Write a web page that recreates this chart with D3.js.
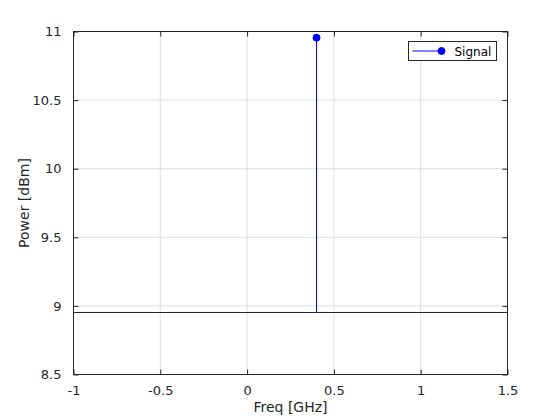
<!DOCTYPE html>
<html>
<head>
<meta charset="utf-8">
<script src="https://cdn.jsdelivr.net/npm/d3@7"></script>
<style>
  body { margin: 0; background: #fff; }
  text { font-family: "DejaVu Sans", sans-serif; }
</style>
</head>
<body>
<div id="vis"><svg></svg></div>
<script>
// data
const freqs = [0.4];
const powers = [10.955];
const baseValue = 8.952;
const xTicks = [-1, -0.5, 0, 0.5, 1, 1.5];
const yTicks = [8.5, 9, 9.5, 10, 10.5, 11];
const seriesName = "Signal";

const W = 560, H = 420;
const margin = {top: 31.5, right: 52.5, bottom: 45.5, left: 73.5};
const width = W - margin.left - margin.right,
      height = H - margin.top - margin.bottom;

const svg = d3.select("#vis").select("svg")
  .attr("width", W).attr("height", H);
const g = svg.append("g")
  .attr("transform", "translate(" + margin.left + "," + margin.top + ")");

const x = d3.scaleLinear().domain([-1, 1.5]).range([0, width]);
const y = d3.scaleLinear().domain([8.5, 11]).range([height, 0]);

// grid
g.append("g").selectAll("line").data(xTicks).join("line")
  .attr("x1", d => x(d)).attr("x2", d => x(d))
  .attr("y1", 0).attr("y2", height)
  .attr("stroke", "#dfdfdf").attr("stroke-width", 1);
g.append("g").selectAll("line").data(yTicks).join("line")
  .attr("y1", d => y(d)).attr("y2", d => y(d))
  .attr("x1", 0).attr("x2", width)
  .attr("stroke", "#dfdfdf").attr("stroke-width", 1);

// axes (ticks inside, like matlab)
const fmt = d => String(d).replace("-", "-");
function styleAxis(sel) {
  sel.select(".domain").remove();
  sel.selectAll(".tick line").attr("stroke", "#262626");
  sel.selectAll(".tick text").attr("fill", "#262626")
    .style("font-size", "13px").style("font-family", "DejaVu Sans, sans-serif");
}
g.append("g").attr("transform", `translate(0,${height})`)
  .call(d3.axisBottom(x).tickValues(xTicks).tickFormat(fmt).tickSizeInner(-5).tickPadding(11))
  .call(styleAxis);
g.append("g")
  .call(d3.axisTop(x).tickValues(xTicks).tickFormat("").tickSizeInner(-5))
  .call(styleAxis);
g.append("g")
  .call(d3.axisLeft(y).tickValues(yTicks).tickFormat(fmt).tickSizeInner(-5).tickPadding(12))
  .call(styleAxis);
g.append("g").attr("transform", `translate(${width},0)`)
  .call(d3.axisRight(y).tickValues(yTicks).tickFormat("").tickSizeInner(-5))
  .call(styleAxis);

// box
g.append("rect").attr("width", width).attr("height", height)
  .attr("fill", "none").attr("stroke", "#262626").attr("stroke-width", 1);

// baseline
g.append("line")
  .attr("x1", 0).attr("x2", width)
  .attr("y1", y(baseValue)).attr("y2", y(baseValue))
  .attr("stroke", "#262626").attr("stroke-width", 1);

// stems
const data = freqs.map((f, i) => ({f: f, p: powers[i]}));
g.selectAll(".stem").data(data).join("line").attr("class", "stem")
  .attr("x1", d => x(d.f)).attr("x2", d => x(d.f))
  .attr("y1", y(baseValue)).attr("y2", d => y(d.p))
  .attr("stroke", "#0000ff").attr("stroke-width", 1);
g.selectAll(".mark").data(data).join("circle").attr("class", "mark")
  .attr("cx", d => x(d.f)).attr("cy", d => y(d.p)).attr("r", 3.5)
  .attr("fill", "#0000ff").attr("stroke", "#0000ff");

// labels
svg.append("text").attr("x", margin.left + width / 2).attr("y", 412)
  .attr("text-anchor", "middle").attr("fill", "#262626")
  .style("font-size", "14px").text("Freq [GHz]");
svg.append("text")
  .attr("transform", `translate(29,${margin.top + height / 2}) rotate(-90)`)
  .attr("text-anchor", "middle").attr("fill", "#262626")
  .style("font-size", "14px").text("Power [dBm]");

// legend
const lg = svg.append("g").attr("transform", "translate(408.5,41.5)");
lg.append("rect").attr("width", 88).attr("height", 19)
  .attr("fill", "#fff").attr("stroke", "#262626").attr("stroke-width", 1);
lg.append("line").attr("x1", 4).attr("x2", 33).attr("y1", 9.5).attr("y2", 9.5)
  .attr("stroke", "#0000ff");
lg.append("circle").attr("cx", 33).attr("cy", 9.5).attr("r", 3.5)
  .attr("fill", "#0000ff").attr("stroke", "#0000ff");
lg.append("text").attr("x", 46).attr("y", 14).attr("fill", "#000")
  .style("font-size", "12px").text(seriesName);
</script>
</body>
</html>
